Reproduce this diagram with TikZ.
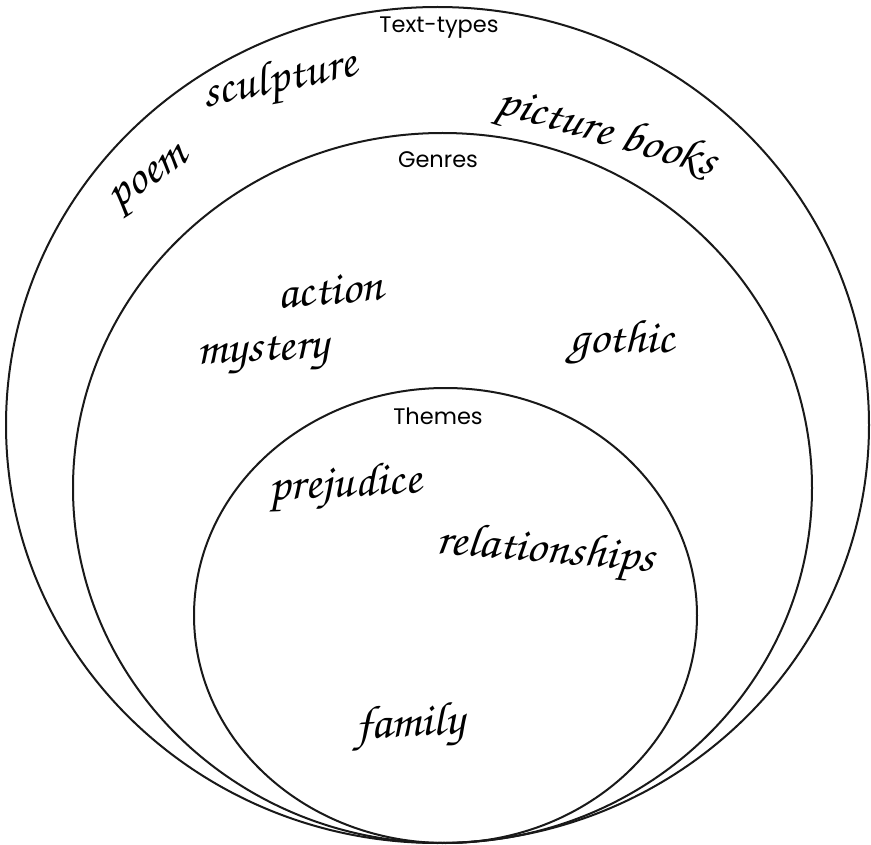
\documentclass[tikz,border=0pt]{standalone}
\usepackage[T1]{fontenc}
\usepackage{fontspec}
\setsansfont{Poppins}
\begin{document}
\begin{tikzpicture}[x=1pt,y=-1pt,
  ring/.style={draw=black!90, line width=2pt},
  lab/.style={font=\sffamily\fontsize{22.5}{22.5}\selectfont, inner sep=0pt},
  word/.style={font=\fontencoding{T1}\fontfamily{pzc}\fontseries{mb}\fontshape{it}\fontsize{47}{47}\selectfont, inner sep=0pt, xscale=1.04}]
\useasboundingbox (0,0) rectangle (871,845);
\fill[white] (0,0) rectangle (871,845);
\draw[ring] (437.5,425) ellipse [x radius=431.5pt, y radius=418pt];
\draw[ring] (442.5,488) ellipse [x radius=369.5pt, y radius=355pt];
\draw[ring] (445.5,615.5) ellipse [x radius=251.5pt, y radius=227.5pt];
\node[lab] (tt) at (439,28) {Text-types};
\node[lab] (ge) at (438,160) {Genres};
\node[lab] (th) at (438,416) {Themes};
\node[word, rotate=12] (sc) at (280,82) {sculpture};
\node[word, rotate=35] (po) at (152,183) {poem};
\node[word, rotate=-17] (pb) at (606,135) {picture books};
\node[word, rotate=5] (ac) at (330,290) {action};
\node[word, rotate=3] (my) at (263,355) {mystery};
\node[word] (go) at (622,343) {gothic};
\node[word, rotate=3] (pr) at (345,487) {prejudice};
\node[word, rotate=-5] (re) at (545,553) {relationships};
\node[word, rotate=3] (fa) at (410,727) {family};
\end{tikzpicture}
\end{document}
